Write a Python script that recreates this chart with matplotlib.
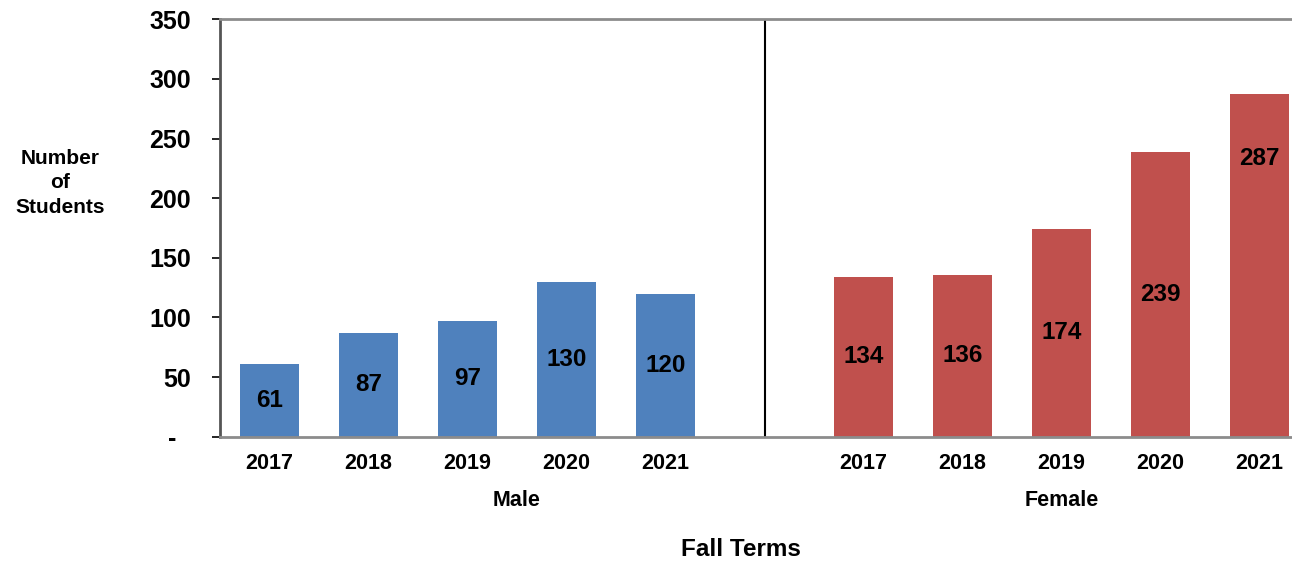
import numpy as np
import matplotlib.pyplot as plt
import matplotlib.transforms as mtransforms

plt.rcParams['font.family'] = ['Liberation Sans', 'DejaVu Sans']
plt.rcParams['font.weight'] = 'bold'

# ---- data ----
years = ['2017', '2018', '2019', '2020', '2021']
male = [61, 87, 97, 130, 120]
female = [134, 136, 174, 239, 287]
groups = ['Male', 'Female']
yticks = [0, 50, 100, 150, 200, 250, 300, 350]
ytick_labels = ['-  ', '50', '100', '150', '200', '250', '300', '350']

BLUE = '#4F81BD'
RED = '#C0504D'

fig = plt.figure(figsize=(12.92, 5.62), dpi=100)
ax = fig.add_axes([220 / 1292, 1 - 436.7 / 562, (1309 - 220) / 1292, (436.7 - 19.3) / 562])

x_m = np.arange(len(male))
x_f = np.arange(len(female)) + len(male) + 1
ax.bar(x_m, male, width=0.6, color=BLUE, edgecolor='none', zorder=2)
ax.bar(x_f, female, width=0.6, color=RED, edgecolor='none', zorder=2)

# value labels in the middle of each bar (last one sits higher)
for xs, vals in [(x_m, male), (x_f, female)]:
    for x, v in zip(xs, vals):
        y = v / 2
        if v == 287:
            y = 233
        ax.text(x, y, str(v), ha='center', va='center', fontsize=17.5, fontweight='bold', zorder=3)

ax.axvline(len(male), color='black', linewidth=1.5, zorder=1)

ax.set_xlim(-0.5, 10.5)
ax.set_ylim(0, 350)
ax.set_yticks(yticks)
ax.set_yticklabels(ytick_labels, fontsize=18, fontweight='bold')
ax.tick_params(axis='y', direction='out', length=6, width=1.2, pad=15, color='black')
ax.set_xticks(list(x_m) + list(x_f))
ax.set_xticklabels(years + years, fontsize=15.5, fontweight='bold')
ax.tick_params(axis='x', length=0, pad=11.5)

for side in ['top', 'bottom']:
    ax.spines[side].set_color('#8c8c8c')
    ax.spines[side].set_linewidth(2)
ax.spines['left'].set_color('#555555')
ax.spines['left'].set_linewidth(2)
ax.spines['right'].set_visible(False)

trans = mtransforms.blended_transform_factory(ax.transData, fig.transFigure)
ax.text(2.5, 1 - 500 / 562, groups[0], transform=trans, ha='center', va='center',
        fontsize=15.5, fontweight='bold')
ax.text(8, 1 - 500 / 562, groups[1], transform=trans, ha='center', va='center',
        fontsize=15.5, fontweight='bold')

fig.text(741 / 1292, 1 - 550 / 562, 'Fall Terms', ha='center', va='center', fontsize=17.5, fontweight='bold')
fig.text(60 / 1292, 1 - 183 / 562, 'Number\nof\nStudents', ha='center', va='center',
         fontsize=15, fontweight='bold', linespacing=1.35)

fig.savefig('out.png', dpi=100)
